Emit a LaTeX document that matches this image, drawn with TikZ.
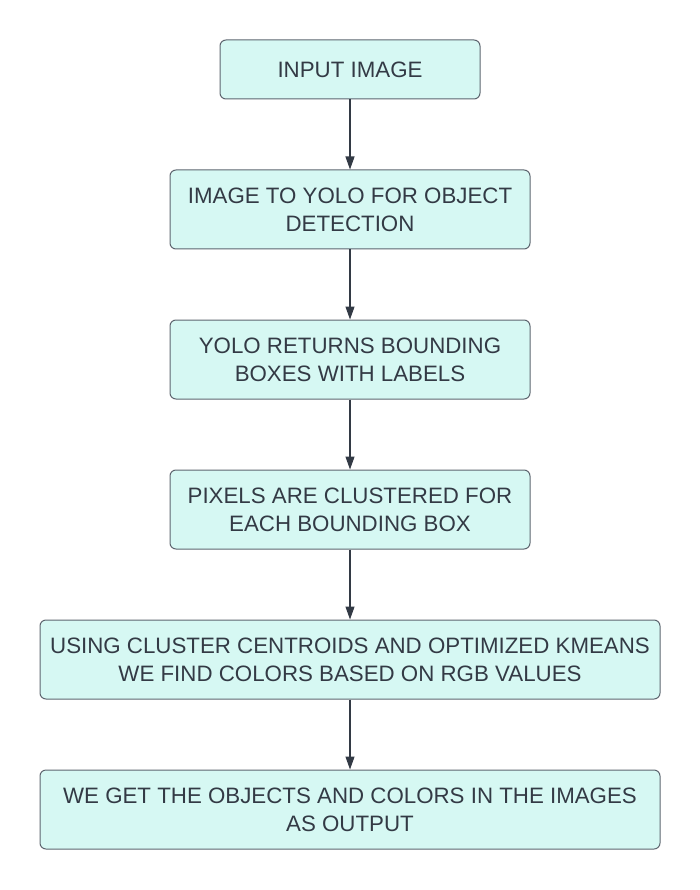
\documentclass[tikz,border=0pt]{standalone}
\usepackage{fontspec}
\setmainfont{Liberation Sans}
\usetikzlibrary{arrows.meta}
\definecolor{boxfill}{HTML}{D6F8F3}
\definecolor{boxline}{HTML}{5E6670}
\definecolor{txt}{HTML}{333A45}
\begin{document}
\begin{tikzpicture}[x=1pt,y=-1pt,
  stepbox/.style={draw=boxline,fill=boxfill,line width=1pt,rounded corners=6pt,
    text=txt,align=center,font=\fontsize{22.3}{28}\selectfont,inner sep=0pt},
  conn/.style={draw=txt,line width=1.2pt,-{Triangle[length=13pt,width=9pt]}}]
\useasboundingbox[fill=white] (0,0) rectangle (700,890);
\node[stepbox,minimum width=260pt,minimum height=59pt] (n1) at (350,69.5) {INPUT IMAGE};
\node[stepbox,minimum width=360pt,minimum height=79pt] (n2) at (350,209.5) {IMAGE TO YOLO FOR OBJECT\\DETECTION};
\node[stepbox,minimum width=360pt,minimum height=79pt] (n3) at (350,359.5) {YOLO RETURNS BOUNDING\\BOXES WITH LABELS};
\node[stepbox,minimum width=360pt,minimum height=79pt] (n4) at (350,509.5) {PIXELS ARE CLUSTERED FOR\\EACH BOUNDING BOX};
\node[stepbox,minimum width=620pt,minimum height=79pt] (n5) at (350,659.5) {USING CLUSTER CENTROIDS AND OPTIMIZED KMEANS\\WE FIND COLORS BASED ON RGB VALUES};
\node[stepbox,minimum width=620pt,minimum height=79pt] (n6) at (350,809.5) {WE GET THE OBJECTS AND COLORS IN THE IMAGES\\AS OUTPUT};
\draw[conn] (n1) -- (n2);
\draw[conn] (n2) -- (n3);
\draw[conn] (n3) -- (n4);
\draw[conn] (n4) -- (n5);
\draw[conn] (n5) -- (n6);
\end{tikzpicture}
\end{document}
